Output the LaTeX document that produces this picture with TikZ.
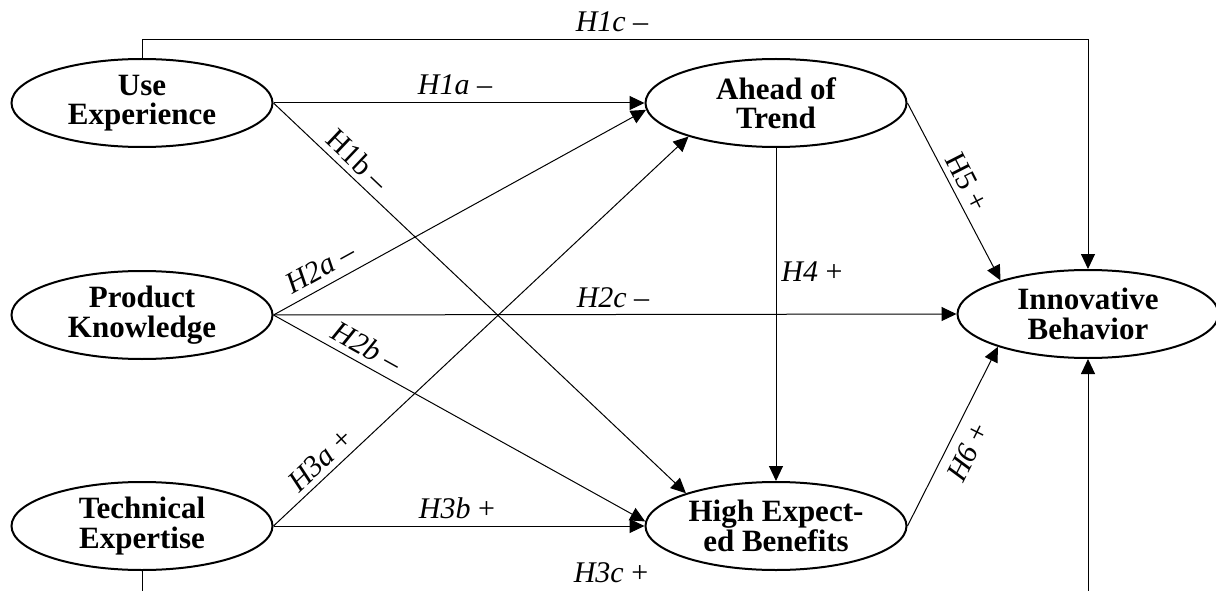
\documentclass[tikz,border=0pt]{standalone}
\usepackage{fontspec}
\setmainfont{Liberation Serif}
\usetikzlibrary{shapes.geometric,arrows.meta}
\tikzset{
  construct/.style={ellipse, draw, line width=2pt, minimum width=261pt, minimum height=88pt,
    inner sep=0pt, align=center, font=\fontsize{31}{29.5}\selectfont\bfseries},
  link/.style={line width=1pt, -{Triangle[length=15pt,width=14pt]}},
  hyp/.style={font=\fontsize{30}{30}\selectfont, inner sep=0pt}
}
\begin{document}
\begin{tikzpicture}[x=1pt,y=-1pt]
\useasboundingbox (0,0) rectangle (1216,591);
\node[construct] (use) at (142,103) {Use\\Experience};
\node[construct] (pk) at (142,315) {Product\\Knowledge};
\node[construct] (tech) at (142,526) {Technical\\Expertise};
\node[construct] (ahead) at (776,103) {Ahead of\\Trend};
\node[construct] (high) at (776,526) {High Expect-\\ed Benefits};
\node[construct] (inn) at (1088,314) {Innovative\\Behavior};

\coordinate (c1) at (142,40);
\coordinate (c2) at (1088,40);
\coordinate (c3) at (142,598);
\coordinate (c4) at (1088,598);

% H1c
\draw[link] (use.north) -- (c1) -- (c2) -- (inn.north);
% H3c
\draw[link] (tech.south) -- (c3) -- (c4) -- (inn.south);
% H1a, H1b
\draw[link] (use.east) -- (ahead.west);
\draw[link] (use.east) -- (high.160.5);
% H2
\draw[link] (pk.east) -- (ahead.183);
\draw[link] (pk.east) -- (inn.west);
\draw[link] (pk.east) -- (high.178);
% H3
\draw[link] (tech.east) -- (ahead.201.7);
\draw[link] (tech.east) -- (high.west);
% H4, H5, H6
\draw[link] (ahead.south) -- (high.north);
\draw[link] (ahead.east) -- (inn.159.5);
\draw[link] (high.east) -- (inn.200.5);

% labels
\node[hyp] (l1c) at (612,22) {\textit{H1c} –};
\node[hyp] (l1a) at (455,85) {\textit{H1a} –};
\node[hyp, rotate=-43.5] (l1b) at (358,160) {H1b –};
\node[hyp, rotate=28.9] (l2a) at (320,268) {\textit{H2a} –};
\node[hyp] (l2c) at (613,298) {\textit{H2c} –};
\node[hyp, rotate=-29.1] (l2b) at (367,347) {\textit{H2b} –};
\node[hyp, rotate=43.3] (l3a) at (320,460) {\textit{H3a} +};
\node[hyp] (l3b) at (457,508) {\textit{H3b} +};
\node[hyp] (l3c) at (611,573) {\textit{H3c} +};
\node[hyp] (l4) at (812,272) {\textit{H4} +};
\node[hyp, rotate=-63] (l5) at (967,182) {H5 +};
\node[hyp, rotate=63.3] (l6) at (968,452) {\textit{H6} +};
\end{tikzpicture}
\end{document}
